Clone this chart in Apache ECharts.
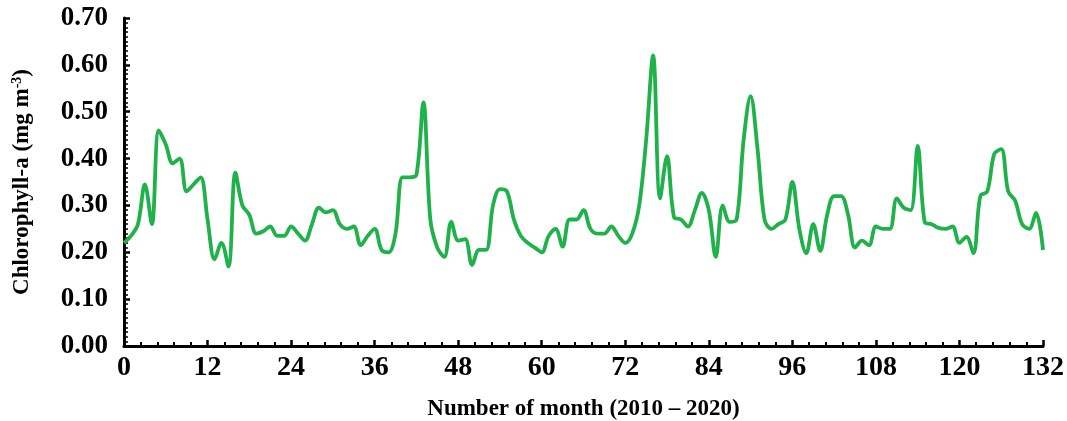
<!DOCTYPE html>
<html><head><meta charset="utf-8">
<script src="https://cdn.jsdelivr.net/npm/echarts@6/dist/echarts.min.js"></script>
<style>html,body{margin:0;padding:0;background:#fff}#c{width:1067px;height:421px}</style>
</head><body><div id="c"></div>
<script>
const months = Array.from({length: 133}, (_, i) => i);
const chlorophyll = [
  0.22,0.235,0.26,0.345,0.26,0.46,0.43,0.39,0.40,0.33,0.345,0.36,0.27,0.185,0.22,0.17,
  0.37,0.30,0.28,0.24,0.245,0.255,0.235,0.235,0.255,0.24,0.225,0.26,0.295,0.285,0.29,0.26,
  0.25,0.255,0.215,0.235,0.25,0.205,0.20,0.24,0.36,0.36,0.365,0.52,0.27,0.21,0.19,0.265,
  0.225,0.228,0.173,0.205,0.205,0.30,0.335,0.33,0.27,0.235,0.22,0.21,0.20,0.235,0.25,0.212,
  0.27,0.27,0.29,0.25,0.24,0.24,0.255,0.235,0.22,0.24,0.30,0.44,0.62,0.315,0.405,0.275,
  0.27,0.255,0.29,0.327,0.29,0.19,0.30,0.265,0.27,0.44,0.533,0.42,0.27,0.25,0.26,0.27,
  0.35,0.25,0.198,0.26,0.203,0.28,0.32,0.32,0.28,0.21,0.225,0.215,0.255,0.25,0.25,0.315,
  0.295,0.29,0.427,0.265,0.26,0.252,0.25,0.255,0.22,0.233,0.198,0.32,0.33,0.41,0.42,0.33,
  0.31,0.26,0.25,0.284,0.205
];
const xTicks = [0,12,24,36,48,60,72,84,96,108,120,132];
const yTitle = 'Chlorophyll-a (mg m';
const xTitle = 'Number of month (2010 \u2013 2020)';

const font = 'Liberation Serif';
const chart = echarts.init(document.getElementById('c'));
chart.setOption({
  animation: false,
  grid: {left: 124, right: 24, top: 18, bottom: 75, outerBoundsMode: 'none', containLabel: false},
  xAxis: {
    type: 'value', min: 0, max: 132, interval: 12,
    name: xTitle, nameLocation: 'middle', nameGap: 52,
    nameTextStyle: {fontFamily: font, fontWeight: 'bold', fontSize: 23, color: '#000'},
    axisLine: {show: true, lineStyle: {color: '#000', width: 3}},
    axisTick: {show: true, inside: true, length: 6, lineStyle: {color: '#000', width: 2.5}},
    minorTick: {show: true, splitNumber: 5, length: 4, lineStyle: {color: '#000', width: 2}},
    splitLine: {show: false},
    axisLabel: {fontFamily: font, fontWeight: 'bold', fontSize: 28, color: '#000', margin: 8,
      formatter: v => xTicks.includes(v) ? String(v) : ''}
  },
  yAxis: {
    type: 'value', min: 0, max: 0.7, interval: 0.1,
    name: '{t|' + yTitle + '}{s|-3}{t|)}', nameLocation: 'middle', nameGap: 90, nameRotate: 90,
    nameTextStyle: {
      rich: {
        t: {fontFamily: font, fontWeight: 'bold', fontSize: 23, color: '#000'},
        s: {fontFamily: font, fontWeight: 'bold', fontSize: 14, color: '#000', verticalAlign: 'top', padding: [0,0,10,0]}
      }
    },
    axisLine: {show: true, lineStyle: {color: '#000', width: 3}},
    axisTick: {show: true, inside: true, length: 6, lineStyle: {color: '#000', width: 2.5}},
    minorTick: {show: true, splitNumber: 10, length: 4, lineStyle: {color: '#000', width: 1.5}},
    splitLine: {show: false},
    axisLabel: {fontFamily: font, fontWeight: 'bold', fontSize: 27, color: '#000', margin: 16,
      formatter: v => v.toFixed(2)}
  },
  series: [{
    type: 'line',
    data: months.map((m, i) => [m, chlorophyll[i]]),
    smooth: 0.35,
    showSymbol: false,
    lineStyle: {color: '#1fb24a', width: 3.8}
  }]
});
</script></body></html>
